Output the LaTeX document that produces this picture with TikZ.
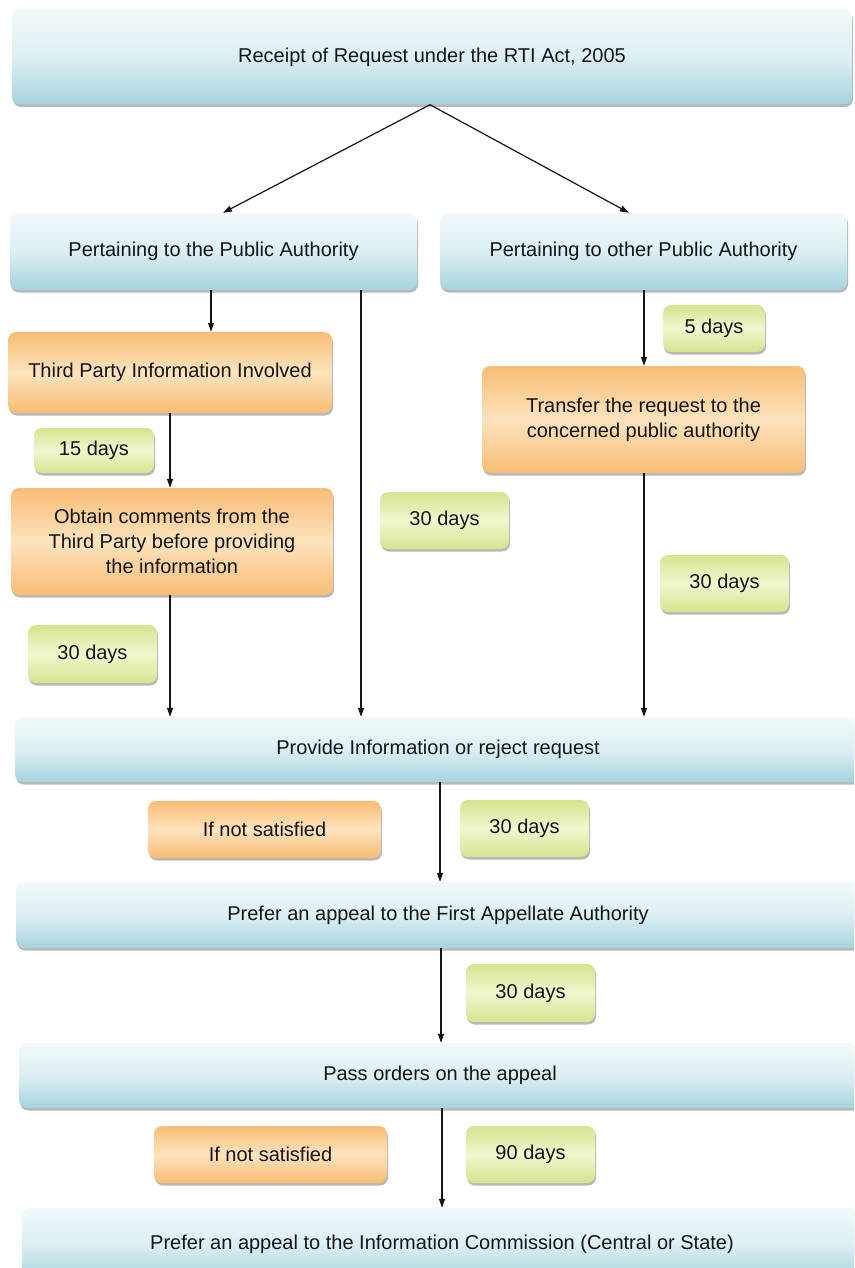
\documentclass[tikz,border=0pt]{standalone}
\usepackage{fontspec}
\setmainfont{Liberation Sans}
\usetikzlibrary{arrows.meta,shadows}
\definecolor{bluetop}{HTML}{F2F9FA}
\definecolor{bluemid}{HTML}{DCEFF3}
\definecolor{bluebot}{HTML}{A6D3DE}
\definecolor{orgedge}{HTML}{F8BD74}
\definecolor{orgmid}{HTML}{FDE3BE}
\definecolor{grnedge}{HTML}{D5E48E}
\definecolor{grnmid}{HTML}{F1F6CF}
\definecolor{ink}{HTML}{151515}
\tikzset{
  base/.style={rounded corners=8pt, draw=none, text=ink, align=center,
    font=\fontsize{20}{25}\selectfont, inner sep=0pt,
    general shadow={fill=black!28, shadow xshift=1pt, shadow yshift=-2.5pt}},
  bluebox/.style={base, top color=bluetop, bottom color=bluebot, middle color=bluemid},
  orangebox/.style={base, top color=orgedge, bottom color=orgedge, middle color=orgmid},
  greenbox/.style={base, top color=grnedge, bottom color=grnedge, middle color=grnmid},
  arr/.style={draw=ink, line width=1.2pt, -{Triangle[length=9pt,width=6pt]}},
  ln/.style={draw=ink, line width=1.2pt}
}
\begin{document}
\begin{tikzpicture}[x=1pt,y=-1pt]
\useasboundingbox (0,0) rectangle (854,1268);
\clip (0,0) rectangle (854,1268);
\fill[white] (0,0) rectangle (854,1268);
% main blue boxes
\node[bluebox, minimum width=840pt, minimum height=95pt] (top) at (432,57) {Receipt of Request under the RTI Act, 2005};
\node[bluebox, minimum width=407pt, minimum height=77pt] (pa) at (213.5,251.5) {Pertaining to the Public Authority};
\node[bluebox, minimum width=407pt, minimum height=77pt] (pb) at (643.5,251.5) {Pertaining to other Public Authority};
\node[bluebox, minimum width=846pt, minimum height=65pt] (provide) at (438,749.5) {Provide Information or reject request};
\node[bluebox, minimum width=844pt, minimum height=66pt] (first) at (438,915) {Prefer an appeal to the First Appellate Authority};
\node[bluebox, minimum width=842pt, minimum height=65pt] (pass) at (440,1075.5) {Pass orders on the appeal};
\node[bluebox, minimum width=840pt, minimum height=72pt] (final) at (442,1244) {Prefer an appeal to the Information Commission (Central or State)};
% orange boxes
\node[orangebox, minimum width=324pt, minimum height=81pt] (third) at (170,372.5) {Third Party Information Involved};
\node[orangebox, minimum width=322pt, minimum height=107pt] (obtain) at (172,541.5) {Obtain comments from the\\Third Party before providing\\the information};
\node[orangebox, minimum width=323pt, minimum height=107pt] (transfer) at (643.5,419.5) {Transfer the request to the\\concerned public authority};
\node[orangebox, minimum width=233pt, minimum height=57pt] (ns1) at (264.5,829.5) {If not satisfied};
\node[orangebox, minimum width=233pt, minimum height=57pt] (ns2) at (270.5,1154.5) {If not satisfied};
% green boxes
\node[greenbox, minimum width=120pt, minimum height=45pt] (d15) at (94,450.5) {15 days};
\node[greenbox, minimum width=129pt, minimum height=58pt] (d30a) at (92.5,654) {30 days};
\node[greenbox, minimum width=129pt, minimum height=57pt] (d30b) at (444.5,520.5) {30 days};
\node[greenbox, minimum width=102pt, minimum height=47pt] (d5) at (714,328.5) {5 days};
\node[greenbox, minimum width=129pt, minimum height=57pt] (d30c) at (724.5,583.5) {30 days};
\node[greenbox, minimum width=129pt, minimum height=57pt] (d30d) at (524.5,828.5) {30 days};
\node[greenbox, minimum width=129pt, minimum height=58pt] (d30e) at (530.5,993) {30 days};
\node[greenbox, minimum width=129pt, minimum height=57pt] (d90) at (530.5,1154.5) {90 days};
% connector columns
\coordinate (apex) at (430,0);
\coordinate (xl) at (223,0);
\coordinate (xr) at (629,0);
\coordinate (c1) at (211,0);
\coordinate (c2) at (361,0);
\coordinate (c3) at (644,0);
\coordinate (c4) at (170,0);
\coordinate (c5) at (440,0);
\coordinate (c6) at (441,0);
\coordinate (c7) at (442,0);
% connectors
\draw[arr] (top.south -| apex) -- (pa.north -| xl);
\draw[arr] (top.south -| apex) -- (pb.north -| xr);
\draw[arr] (pa.south -| c1) -- (third.north -| c1);
\draw[arr] (third.south -| c4) -- (obtain.north -| c4);
\draw[arr] (obtain.south -| c4) -- (provide.north -| c4);
\draw[arr] (pa.south -| c2) -- (provide.north -| c2);
\draw[arr] (pb.south -| c3) -- (transfer.north -| c3);
\draw[arr] (transfer.south -| c3) -- (provide.north -| c3);
\draw[arr] (provide.south -| c5) -- (first.north -| c5);
\draw[arr] (first.south -| c6) -- (pass.north -| c6);
\draw[arr] (pass.south -| c7) -- (final.north -| c7);
\end{tikzpicture}
\end{document}
